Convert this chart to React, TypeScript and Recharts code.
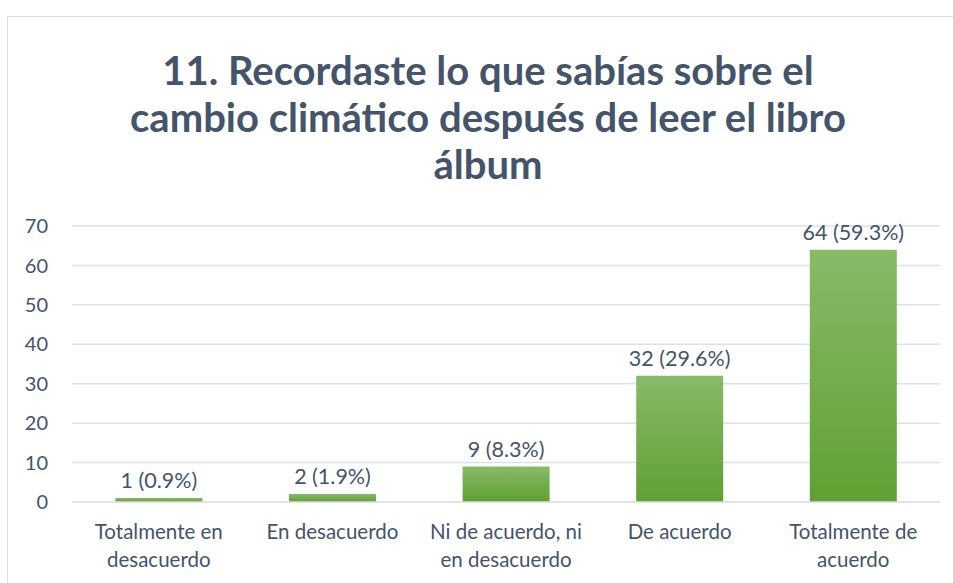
import React from "react";
import { BarChart, Bar, XAxis, YAxis, CartesianGrid, LabelList } from "recharts";

const categories = [
  "Totalmente en desacuerdo",
  "En desacuerdo",
  "Ni de acuerdo, ni en desacuerdo",
  "De acuerdo",
  "Totalmente de acuerdo",
];
const categoryLines: string[][] = [
  ["Totalmente en", "desacuerdo"],
  ["En desacuerdo"],
  ["Ni de acuerdo, ni", "en desacuerdo"],
  ["De acuerdo"],
  ["Totalmente de", "acuerdo"],
];
const counts = [1, 2, 9, 32, 64];
const percents = ["0.9%", "1.9%", "8.3%", "29.6%", "59.3%"];
const yTicks = [0, 10, 20, 30, 40, 50, 60, 70];
const titleLines = [
  "11. Recordaste lo que sabías sobre el",
  "cambio climático después de leer el libro",
  "álbum",
];

const data = categories.map((c, i) => ({
  name: c,
  value: counts[i],
  label: `${counts[i]} (${percents[i]})`,
}));

const FONT = "Lato, 'Open Sans', sans-serif";
const TEXT = "#44546A";

const XTick = (props: any) => {
  const { x, y, index } = props;
  const lines = categoryLines[index] || [];
  return (
    <g>
      {lines.map((l, i) => (
        <text
          key={i}
          x={x}
          y={y + 29 + i * 28}
          textAnchor="middle"
          fill={TEXT}
          fontSize={20.5}
          fontFamily={FONT}
        >
          {l}
        </text>
      ))}
    </g>
  );
};

export default function App() {
  return (
    <div style={{ position: "absolute", left: 0, top: 0, width: 953, height: 583, background: "#fff", overflow: "hidden" }}>
      <div
        style={{
          position: "absolute",
          left: 7,
          top: 16,
          width: 1000,
          height: 700,
          border: "1.5px solid #D9DEE3",
          boxSizing: "border-box",
        }}
      />
      <div style={{ position: "absolute", left: 0, top: 0 }}>
        <BarChart
          width={953}
          height={583}
          data={data}
          margin={{ top: 226, right: 13, bottom: 11, left: 12 }}
          barCategoryGap="25%"
        >
          <defs>
            <linearGradient id="barGrad" x1="0" y1="0" x2="0" y2="1">
              <stop offset="0%" stopColor="#88BA68" />
              <stop offset="100%" stopColor="#5FA032" />
            </linearGradient>
          </defs>
          <CartesianGrid vertical={false} stroke="#DDE1E6" strokeWidth={1.5} />
          <XAxis
            dataKey="name"
            axisLine={{ stroke: "#DDE1E6", strokeWidth: 1.5 }}
            tickLine={false}
            tick={<XTick />}
            height={70}
            interval={0}
          />
          <YAxis
            domain={[0, 70]}
            ticks={yTicks}
            width={60}
            axisLine={false}
            tickLine={false}
            tickSize={0}
            tickMargin={24}
            tick={{ fill: TEXT, fontSize: 20, fontFamily: FONT }}
          />
          <Bar dataKey="value" fill="url(#barGrad)" isAnimationActive={false}>
            <LabelList
              dataKey="label"
              position="top"
              offset={10}
              fill={TEXT}
              fontSize={21.5}
              fontFamily={FONT}
            />
          </Bar>
        </BarChart>
      </div>
      {titleLines.map((t, i) => (
        <div
          key={i}
          style={{
            position: "absolute",
            left: 0,
            width: 976,
            top: 48 + i * 47,
            textAlign: "center",
            fontFamily: FONT,
            fontWeight: 700,
            fontSize: 40,
            lineHeight: "45px",
            color: TEXT,
            whiteSpace: "nowrap",
          }}
        >
          {t}
        </div>
      ))}
    </div>
  );
}
